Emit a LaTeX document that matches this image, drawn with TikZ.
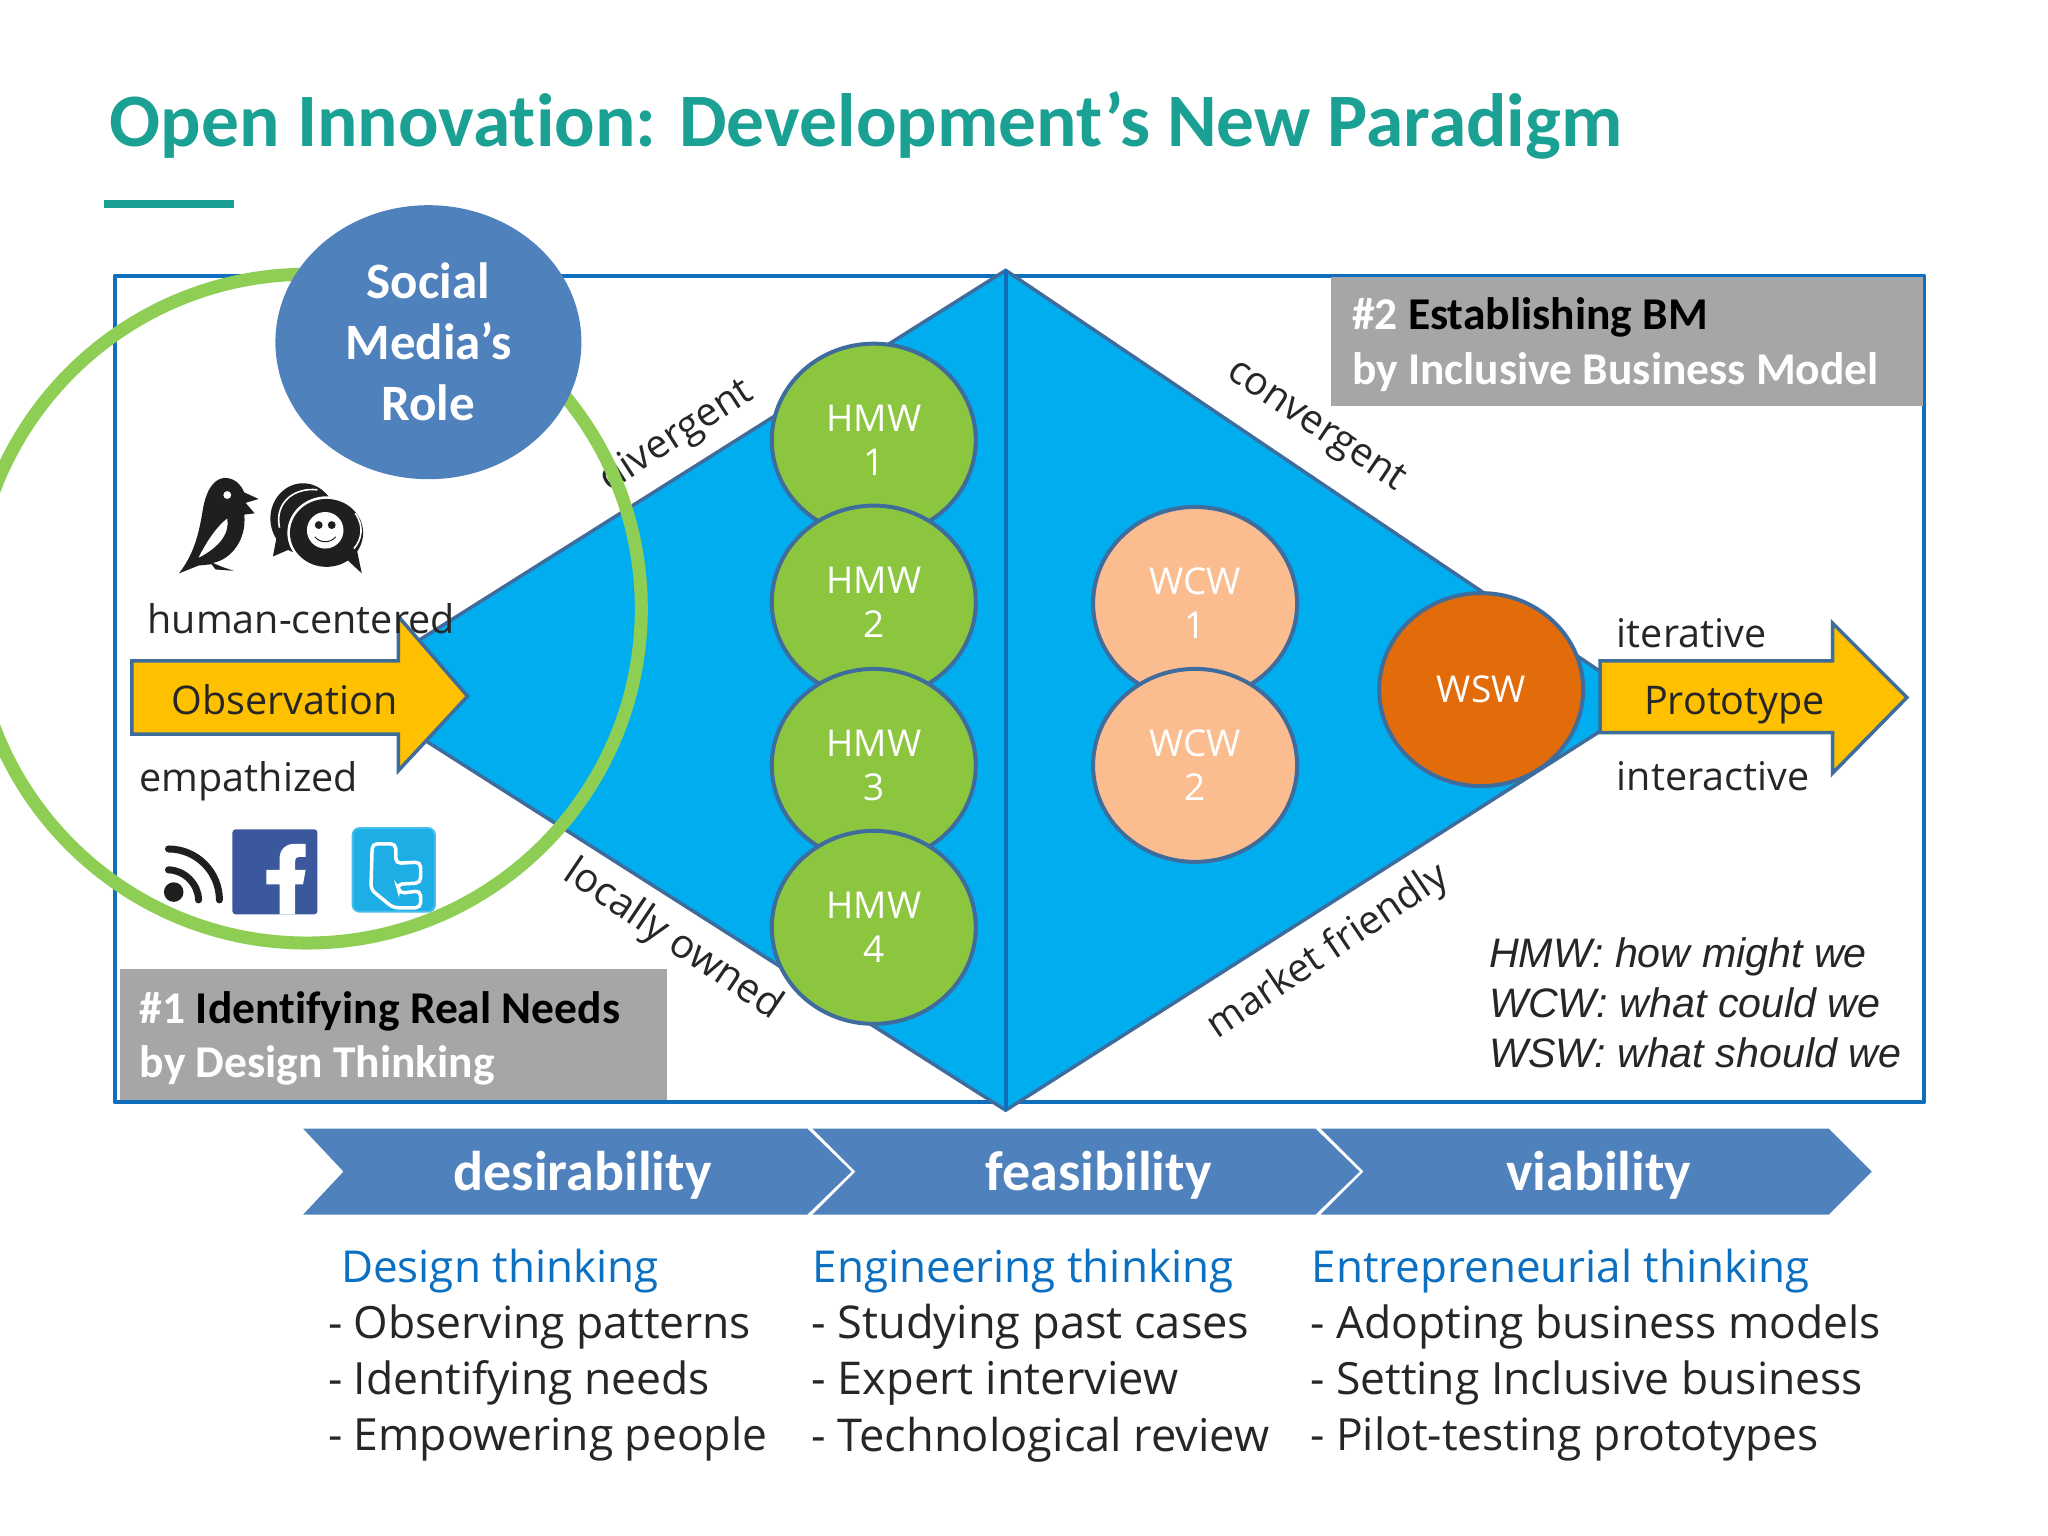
\documentclass[tikz,border=0pt]{standalone}
\usepackage{fontspec}
\setmainfont[Ligatures=NoCommon]{Carlito}
\newfontfamily\osans[Ligatures=NoCommon]{Open Sans}
\newfontfamily\lsans{Liberation Sans}
\usetikzlibrary{shapes.geometric}
\definecolor{teal1}{HTML}{1BA094}
\definecolor{frameblue}{HTML}{0F6FBD}
\definecolor{edgeblue}{HTML}{3E6C9C}
\definecolor{skyb}{HTML}{00AEEF}
\definecolor{hmwg}{HTML}{8CC63F}
\definecolor{wcwp}{HTML}{FBBD8F}
\definecolor{wswo}{HTML}{E36C0A}
\definecolor{amber}{HTML}{FFC000}
\definecolor{steel}{HTML}{4F81BD}
\definecolor{ringg}{HTML}{8FCE55}
\definecolor{boxg}{HTML}{A6A5A7}
\definecolor{headb}{HTML}{0B6FC2}
\definecolor{txt}{HTML}{262626}
\definecolor{fbblue}{HTML}{3B579D}
\definecolor{twblue}{HTML}{1CAEE5}
\definecolor{twedge}{HTML}{46BEEB}
\newcommand{\fs}[1]{\fontsize{#1pt}{#1pt}\selectfont}
\tikzset{
 lbl/.style={inner sep=0pt,outer sep=0pt,font=\osans\fs{39.5},text=txt},
 blob/.style={ellipse,draw=edgeblue,line width=4pt,inner sep=0pt,minimum width=204pt,minimum height=193pt,align=center,font=\osans\fontsize{37pt}{44pt}\selectfont,text=white},
 hmw/.style={blob,fill=hmwg},
 wcw/.style={blob,fill=wcwp},
 wsw/.style={blob,fill=wswo},
 bigarrow/.style={fill=amber,draw=edgeblue,line width=3.5pt,line join=miter},
 chev/.style={fill=steel},
 chevtxt/.style={inner sep=0pt,font=\bfseries\fs{56},text=white},
 head/.style={anchor=west,inner sep=0pt,font=\osans\fs{44},text=headb},
 item/.style={anchor=west,inner sep=0pt,font=\osans\fs{44.4},text=txt},
 itemb/.style={anchor=west,inner sep=0pt,font=\osans\fs{45.2},text=txt},
 legend/.style={anchor=base west,inner sep=0pt,font=\lsans\itshape\fs{41.2},text=txt},
 graybox/.style={fill=boxg},
 boxtxt/.style={anchor=west,inner sep=0pt,font=\bfseries\fs{45.5},text=white},
 ink/.style={fill=black!88}
}
\begin{document}
\begin{tikzpicture}[x=1.30612pt,y=-1.30612pt]
\useasboundingbox (0,0) rectangle (1568,1176);
\fill[white] (0,0) rectangle (1568,1176);
% title
\node[anchor=base west,inner sep=0pt,font=\bfseries\fs{75.5},text=teal1] (title) at (84,112) {Open Innovation: Development’s New Paradigm};
\fill[teal1] (80,153) rectangle (179,159);
% frame
\draw[frameblue,line width=4pt,line join=round] (88,211) rectangle (1473,844);
% diamond
\draw[fill=skyb,draw=edgeblue,line width=3.5pt] (310,497) -- (770,207) -- (1228,516) -- (1228,558) -- (770,850) -- (310,557) -- cycle;
\draw[frameblue,line width=4pt] (770,207) -- (770,850);
% side labels
\node[lbl,rotate=33] (divl) at (518,334) {divergent};
\node[lbl,rotate=-34] (conl) at (1007,327) {convergent};
\node[lbl,font=\osans\fs{40.2},rotate=-34] (locl) at (515,720) {locally owned};
\node[lbl,font=\osans\fs{39.5},rotate=34] (marl) at (1017,729) {market friendly};
% hmw
\node[hmw] (h1) at (669,337) {HMW\\1};
\node[hmw] (h2) at (669,461) {HMW\\2};
\node[hmw] (h3) at (669,586) {HMW\\3};
\node[hmw] (h4) at (669,710) {HMW\\4};
\node[wcw] (w1) at (915,462) {WCW\\1};
\node[wcw] (w2) at (915,586) {WCW\\2};
\node[wsw] (w3) at (1134,528) {WSW};
% arrows
\draw[bigarrow] (101,506) -- (305,506) -- (305,472) -- (358,533) -- (305,590) -- (305,562) -- (101,562) -- cycle;
\draw[bigarrow] (1225,506) -- (1403,506) -- (1403,477) -- (1460,534) -- (1403,592) -- (1403,561) -- (1225,561) -- cycle;
\node[lbl] (obs) at (218,536) {Observation};
\node[lbl] (pro) at (1328,540) {Prototype};
\node[lbl,anchor=west] (hc) at (113,474) {human-centered};
\node[lbl,anchor=west] (emp) at (107,598) {empathized};
\node[lbl,anchor=west] (ite) at (1238,485) {iterative};
\node[lbl,anchor=west] (int) at (1238,594) {interactive};
% legend
\node[legend] (l1) at (1140,741) {HMW: how might we};
\node[legend] (l2) at (1140,779) {WCW: what could we};
\node[legend] (l3) at (1140,817) {WSW: what should we};
% bird icon
\fill[ink] (137,439) .. controls (148,425) and (152,410) .. (155,392) .. controls (158,372) and (166,365) .. (174,366) .. controls (181,367) and (185,372) .. (187,377) -- (198,382) -- (188,385) -- (195,393) -- (187,394) .. controls (189,412) and (178,428) .. (163,431) -- (170,434) -- (179,437) -- (165,436) -- (162,432) -- (152,433) -- cycle;
\fill[white] (152,427) .. controls (158,415) and (166,403) .. (174,397) .. controls (176,408) and (168,419) .. (152,427) -- cycle;
\fill[white] (174,379) circle[radius=3];
% speech icon
\fill[ink] (232,397) ellipse[x radius=25,y radius=27];
\fill[ink] (212,410) -- (209,426) -- (230,417) -- cycle;
\draw[white,line width=1.6pt] (214,404) .. controls (210,385) and (225,373) .. (243,375);
\fill[white] (250,408) ellipse[x radius=30,y radius=28];
\fill[ink] (250,408) ellipse[x radius=28,y radius=26];
\fill[ink] (262,425) -- (277,439) -- (272,415) -- cycle;
\draw[white,line width=1.6pt] (272,393) .. controls (279,403) and (277,413) .. (271,420);
\fill[white] (249,406) circle[radius=14];
\fill[ink] (244,402) circle[radius=3];
\fill[ink] (254,402) circle[radius=3];
\draw[black!88,line width=1pt] (241,411) .. controls (245,416) and (253,416) .. (257,411);
% rss
\fill[ink] (133,683) circle[radius=7.5];
\draw[black!88,line width=7pt,line cap=round] (129,666) .. controls (141,666) and (152,677) .. (152,689);
\draw[black!88,line width=7pt,line cap=round] (129,650) .. controls (151,650) and (168,668) .. (168,689);
% facebook
\fill[rounded corners=3pt,fill=fbblue] (178,635) rectangle (243,700);
\fill[white] (214,700) -- (214,677) -- (204,677) -- (204,666) -- (214,666) -- (214,658) .. controls (214,650) and (219,646) .. (226,646) -- (234,646) -- (234,656) -- (229,656) .. controls (227,656) and (226,657) .. (226,660) -- (226,666) -- (234,666) -- (232,677) -- (226,677) -- (226,700) -- cycle;
% twitter
\draw[rounded corners=7pt,fill=twblue,draw=twedge,line width=2pt] (270,634) rectangle (333,698);
\draw[white,line width=3.5pt,rounded corners=5pt,fill=twblue] (285,646) -- (303,646) -- (303,661) -- (322,660) -- (322,676) -- (304,677) -- (306,684) -- (322,682) -- (322,695) -- (301,695) -- (284,681) -- cycle;
% ring
\draw[ringg,line width=13pt] (235,466) circle[radius=256];
% social
\node[ellipse,fill=steel,minimum width=306pt,minimum height=274pt,inner sep=0pt,align=center,font=\bfseries\fontsize{51pt}{61pt}\selectfont,text=white] (soc) at (328,262) {Social\\Media’s\\Role};
% boxes
\fill[graybox] (92,742) rectangle (511,842);
\fill[graybox] (1019,212) rectangle (1472,311);
\node[boxtxt] (b1) at (107,774) {\#1 \textcolor{black}{Identifying Real Needs}};
\node[boxtxt] (b1b) at (107,816) {by Design Thinking};
\node[boxtxt] (b2) at (1035,243) {\#2 \textcolor{black}{Establishing BM}};
\node[boxtxt] (b2b) at (1035,285) {by Inclusive Business Model};
% chevrons
\fill[chev] (232,864) -- (618,864) -- (652,897) -- (618,930) -- (232,930) -- (263,897) -- cycle;
\fill[chev] (622,864) -- (1007,864) -- (1041,897) -- (1007,930) -- (622,930) -- (655,897) -- cycle;
\fill[chev] (1011,864) -- (1400,864) -- (1433,897) -- (1400,930) -- (1011,930) -- (1044,897) -- cycle;
\node[chevtxt] (c1) at (446,900) {desirability};
\node[chevtxt] (c2) at (841,900) {feasibility};
\node[chevtxt] (c3) at (1224,900) {viability};
% lists
\node[head] (a0) at (261,973) {Design thinking};
\node[item] (a1) at (251,1016) {- Observing patterns};
\node[item] (a2) at (251,1059) {- Identifying needs};
\node[item] (a3) at (251,1102) {- Empowering people};
\node[head] (e0) at (622,973) {Engineering thinking};
\node[itemb] (e1) at (621,1016) {- Studying past cases};
\node[itemb] (e2) at (621,1059) {- Expert interview};
\node[itemb] (e3) at (621,1102) {- Technological review};
\node[head] (f0) at (1004,973) {Entrepreneurial thinking};
\node[item] (f1) at (1003,1016) {- Adopting business models};
\node[item] (f2) at (1003,1059) {- Setting Inclusive business};
\node[item] (f3) at (1003,1102) {- Pilot-testing prototypes};
\end{tikzpicture}
\end{document}
